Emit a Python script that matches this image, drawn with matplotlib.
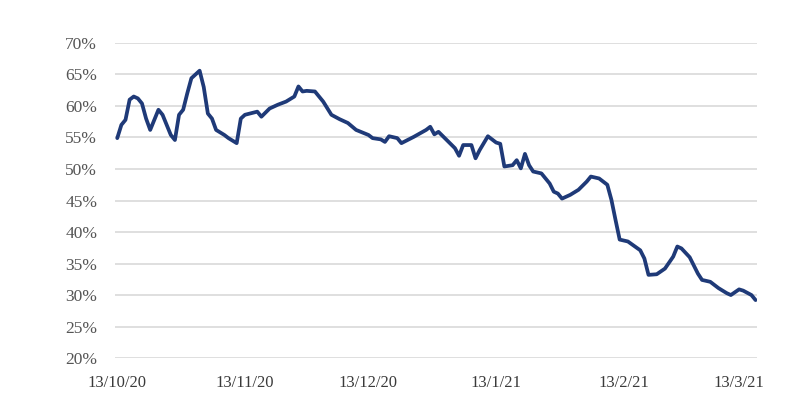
import matplotlib
matplotlib.use('Agg')
import matplotlib.pyplot as plt
import numpy as np
import pandas as pd
from matplotlib.ticker import FuncFormatter

plt.rcParams['font.family'] = ['Liberation Serif', 'DejaVu Serif']

# data
start = '2020-10-13'
day_offset = [0, 1, 2, 3, 4, 5, 6, 7, 8, 10, 11, 12, 13, 14, 15, 16, 17, 18, 20, 21,
              22, 23, 24, 26, 27, 29, 30, 31, 34, 35, 37, 39, 41, 43, 44, 45, 46, 48, 50, 52,
              54, 56, 58, 61, 62, 64, 65, 66, 68, 69, 72, 75, 76, 77, 78, 80, 82, 83, 84, 86,
              87, 88, 90, 92, 93, 94, 96, 97, 98, 99, 100, 101, 103, 105, 106, 107, 108, 110, 112, 114,
              115, 117, 119, 120, 121, 122, 124, 127, 128, 129, 131, 133, 135, 136, 137, 139, 141, 142, 144, 146,
              148, 149, 151, 152, 154, 155]
share = [54.9, 57.0, 57.8, 61.0, 61.5, 61.2, 60.4, 58.0, 56.2, 59.4, 58.6, 57.0, 55.4, 54.6, 58.6, 59.4, 62.0, 64.4, 65.6, 63.0,
         58.8, 58.0, 56.2, 55.4, 54.9, 54.1, 58.0, 58.6, 59.1, 58.3, 59.6, 60.2, 60.7, 61.5, 63.1, 62.3, 62.4, 62.3, 60.7, 58.6,
         57.9, 57.3, 56.2, 55.4, 54.9, 54.7, 54.3, 55.2, 54.9, 54.1, 55.1, 56.2, 56.7, 55.5, 55.9, 54.6, 53.3, 52.1, 53.8, 53.8,
         51.7, 53.0, 55.2, 54.2, 54.0, 50.4, 50.6, 51.4, 50.1, 52.4, 50.6, 49.6, 49.3, 47.7, 46.4, 46.1, 45.3, 45.9, 46.7, 48.0,
         48.8, 48.5, 47.5, 45.1, 41.9, 38.8, 38.5, 37.1, 35.8, 33.2, 33.3, 34.2, 36.1, 37.7, 37.4, 36.0, 33.4, 32.4, 32.1, 31.1,
         30.3, 30.0, 30.9, 30.7, 30.0, 29.2]

tick_dates = ['2020-10-13', '2020-11-13', '2020-12-13', '2021-01-13', '2021-02-13', '2021-03-13']
tick_labels = ['13/10/20', '13/11/20', '13/12/20', '13/1/21', '13/2/21', '13/3/21']
y_ticks = [20, 25, 30, 35, 40, 45, 50, 55, 60, 65, 70]

dates = pd.Timestamp(start) + pd.to_timedelta(day_offset, unit='D')
values = np.array(share) / 100

#figure
fig = plt.figure(figsize=(8, 4.13), dpi=100)
ax = fig.add_axes([0.144, 0.133, 0.802, 0.763])

#line
ax.plot(dates, values, color='#1f3a78', lw=2.7, solid_joinstyle='round', solid_capstyle='round', zorder=3)

#axis limits
ax.set_xlim(pd.Timestamp(start) - pd.Timedelta(hours=12), pd.Timestamp(start) + pd.Timedelta(days=155.3))
ax.set_ylim(0.20, 0.70)

#ticks
ax.set_yticks(np.array(y_ticks) / 100)
ax.yaxis.set_major_formatter(FuncFormatter(lambda v, p: '{:.0f}%'.format(v * 100)))
ax.set_xticks(pd.to_datetime(tick_dates))
ax.set_xticklabels(tick_labels)
ax.tick_params(axis='y', length=0, pad=13, labelsize=12.5, labelcolor='#555555')
ax.tick_params(axis='x', length=0, pad=12, labelsize=12, labelcolor='#3a3a3a')

#grid
ax.grid(axis='y', color='#dcdcdc', lw=1.3)
ax.set_axisbelow(True)
for s in ax.spines.values():
    s.set_visible(False)

plt.savefig('out.png', dpi=100)
